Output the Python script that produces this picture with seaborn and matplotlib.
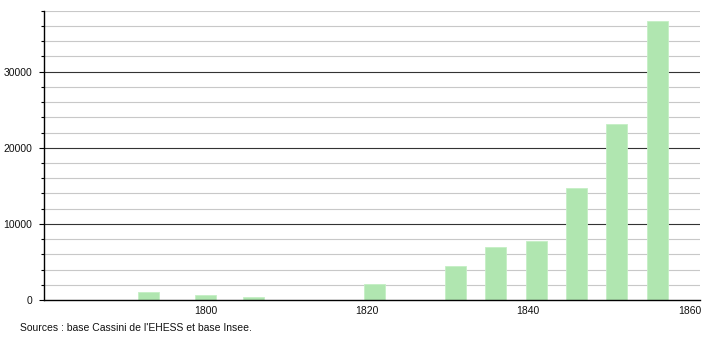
import matplotlib
matplotlib.use("Agg")
import matplotlib.pyplot as plt
import seaborn as sns
import pandas as pd

years = [1793, 1800, 1806, 1821, 1831, 1836, 1841, 1846, 1851, 1856]
population = [1100, 650, 420, 2100, 4470, 6930, 7800, 14750, 23150, 36600]
x_ticks = [1800, 1820, 1840, 1860]
y_major = [0, 10000, 20000, 30000]
source_text = "Sources : base Cassini de l'EHESS et base Insee."

sns.set_style("white")
plt.rcParams['font.family'] = ['Liberation Sans', 'DejaVu Sans']

df = pd.DataFrame({"year": years, "pop": population})

fig = plt.figure(figsize=(7.1, 3.4), dpi=100)
ax = fig.add_axes([44/710, 40/340, (700-44)/710, (300-10.7)/340])

# grid lines
for v in range(2000, 38001, 2000):
    if v % 10000 == 0:
        ax.axhline(v, color="#333333", lw=0.8, zorder=0)
    else:
        ax.axhline(v, color="#c8c8c8", lw=0.8, zorder=0)

sns.barplot(data=df, x="year", y="pop", native_scale=True, width=0.52,
            color="#b0e6b0", saturation=1, edgecolor="#c4efc4", linewidth=0.6,
            ax=ax, zorder=2)

ax.set_xlim(1780, 1861.3)
ax.set_ylim(0, 38000)
ax.set_xticks(x_ticks)
ax.set_xticklabels([str(t) for t in x_ticks], fontsize=7.5, color="#111111")
ax.set_yticks(y_major)
ax.set_yticklabels([str(t) for t in y_major], fontsize=7.5, color="#111111")
ax.set_yticks(list(range(0, 38001, 2000)), minor=True)
ax.tick_params(axis="y", which="major", length=3.5, width=0.8, color="black", pad=5, left=True)
ax.tick_params(axis="y", which="minor", length=2.5, width=0.8, color="black", left=True)
ax.tick_params(axis="x", which="both", length=0, pad=4)
ax.set_xlabel("")
ax.set_ylabel("")

for s in ["top", "right"]:
    ax.spines[s].set_visible(False)
for s in ["left", "bottom"]:
    ax.spines[s].set_visible(True)
    ax.spines[s].set_color("black")
    ax.spines[s].set_linewidth(1.0)

fig.text(20/710, 1 - 328/340, source_text, fontsize=7.5, va="center", ha="left",
         color="#111111")

fig.savefig("out.png", dpi=100)
